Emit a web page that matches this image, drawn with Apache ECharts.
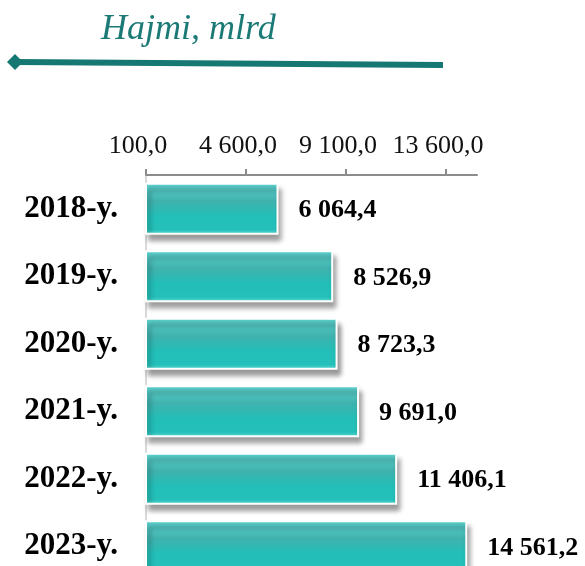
<!DOCTYPE html>
<html>
<head>
<meta charset="utf-8">
<script src="https://cdn.jsdelivr.net/npm/echarts@6/dist/echarts.min.js"></script>
<style>
    html, body { margin: 0; padding: 0; background: #fff; }
    #chart { width: 585px; height: 566px; }
</style>
</head>
<body>
<div id="chart"></div>
<script>
// data
const years = ['2018-y.', '2019-y.', '2020-y.', '2021-y.', '2022-y.', '2023-y.'];
const volumes = [6064.4, 8526.9, 8723.3, 9691.0, 11406.1, 14561.2];
const tickValues = [100, 4600, 9100, 13600];

// 6064.4 -> "6 064,4"
const fmt = function (v) {
    let parts = v.toFixed(1).split('.');
    let int = parts[0].replace(/\B(?=(\d{3})+(?!\d))/g, ' ');
    return int + ',' + parts[1];
}

const serif = '"Liberation Serif", "Times New Roman", serif';

let myChart = echarts.init(document.getElementById('chart'));

let option = {
    animation: false,
    graphic: [
        {
            type: 'text',
            left: 101,
            top: 12,
            style: {
                text: 'Hajmi, mlrd',
                font: 'italic 36px ' + serif,
                fill: '#1b7a76'
            }
        },
        {
            type: 'line',
            shape: { x1: 15, y1: 62, x2: 443, y2: 65 },
            style: { stroke: '#167873', lineWidth: 6 }
        },
        {
            type: 'polygon',
            shape: { points: [[7, 62], [15, 54], [23, 62], [15, 70]] },
            style: { fill: '#167873' }
        }
    ],
    grid: {
        left: 146,
        right: 108,
        top: 175,
        height: 405,
        outerBoundsMode: 'none'
    },
    xAxis: {
        type: 'value',
        position: 'top',
        min: 100,
        max: 15000,
        splitLine: { show: false },
        axisLine: {
            show: true,
            lineStyle: { color: '#8c8c8c', width: 2 }
        },
        axisTick: {
            show: true,
            length: 6,
            customValues: tickValues,
            lineStyle: { color: '#8c8c8c', width: 2 }
        },
        axisLabel: {
            customValues: tickValues,
            formatter: (v) => fmt(v),
            margin: 16,
            padding: [0, 16, 0, 0],
            color: '#111',
            fontFamily: serif,
            fontSize: 26
        }
    },
    yAxis: {
        type: 'category',
        inverse: true,
        data: years,
        axisLine: {
            show: true,
            lineStyle: { color: '#d9d9d9', width: 2 }
        },
        axisTick: { show: false },
        axisLabel: {
            margin: 28,
            color: '#000',
            fontFamily: serif,
            fontWeight: 'bold',
            fontSize: 31
        }
    },
    series: [{
        type: 'bar',
        data: volumes,
        barWidth: 52,
        itemStyle: {
            color: new echarts.graphic.LinearGradient(0, 0, 0, 1, [
                { offset: 0, color: '#60d7d3' },
                { offset: 0.35, color: '#40b2ae' },
                { offset: 0.65, color: '#22bfb8' },
                { offset: 0.9, color: '#24c0b9' },
                { offset: 1, color: '#5fd7d1' }
            ]),
            borderColor: '#ffffff',
            borderWidth: 2,
            shadowColor: 'rgba(0, 0, 0, 0.4)',
            shadowBlur: 5,
            shadowOffsetX: 3,
            shadowOffsetY: 6
        },
        label: {
            show: true,
            position: 'right',
            distance: 20,
            offset: [0, 2],
            formatter: (p) => fmt(p.value),
            color: '#000',
            fontFamily: serif,
            fontWeight: 'bold',
            fontSize: 26
        }
    }]
}
myChart.setOption(option);
</script>
</body>
</html>
